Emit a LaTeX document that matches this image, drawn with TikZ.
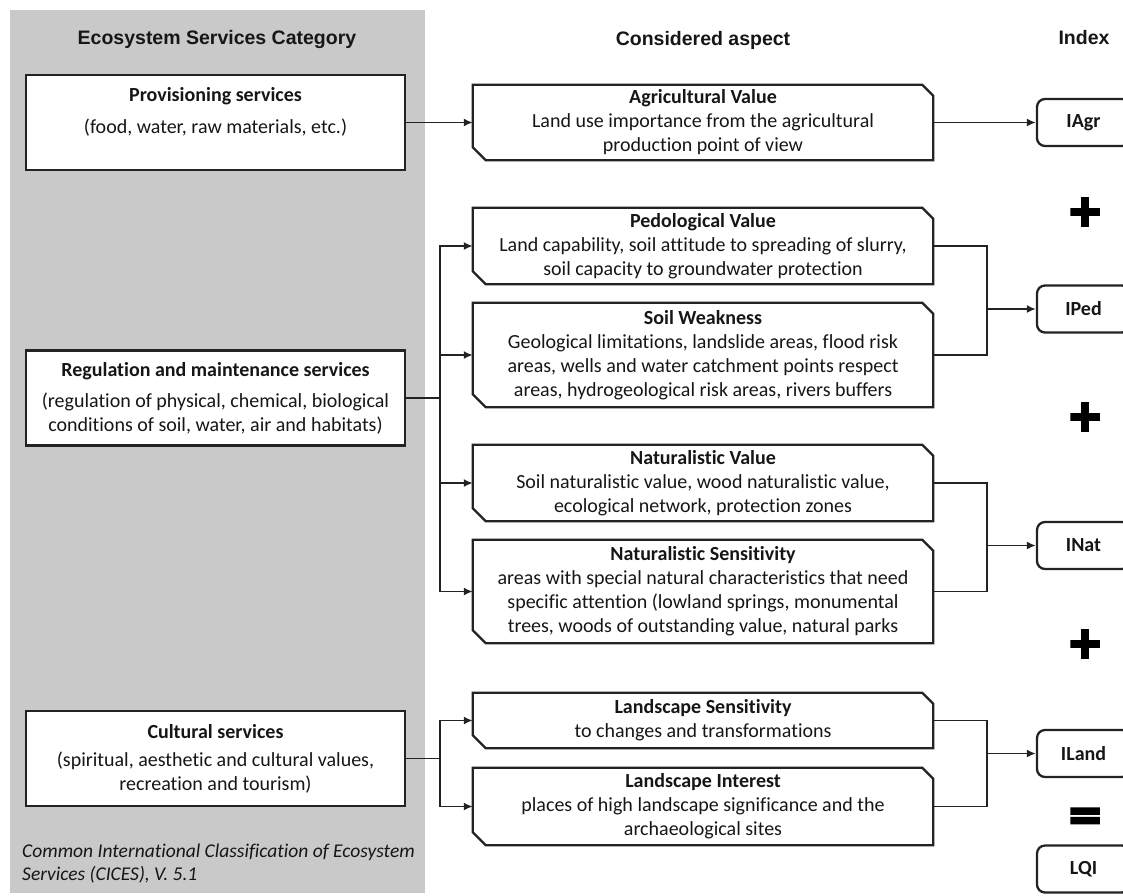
\documentclass[tikz,border=0pt]{standalone}
\usepackage{fontspec}
\setmainfont{Carlito}[Ligatures=CommonOff]
\newfontfamily\arialfont{Liberation Sans}
\newfontfamily\symfont{DejaVu Sans}[FakeBold=6]
\usetikzlibrary{arrows.meta}
\definecolor{panel}{RGB}{201,201,201}
\definecolor{ink}{RGB}{22,22,22}
\definecolor{edge}{RGB}{35,35,35}
\newcommand\chamf[1]{\draw[edge,line width=2.3pt,line join=miter] (#1.north west) -- ([xshift=-11pt]#1.north east) -- ([yshift=-11pt]#1.north east) -- (#1.south east) -- ([xshift=13pt]#1.south west) -- ([yshift=13pt]#1.south west) -- cycle;}
\begin{document}
\begin{tikzpicture}[x=1pt,y=-1pt,
  txt/.style={font=\fontsize{20}{24}\selectfont, text=ink, align=center, inner sep=0pt},
  catbox/.style={draw=edge, line width=2.3pt, fill=white, minimum width=379pt, minimum height=95pt, inner sep=0pt, txt},
  aspbox/.style={minimum width=460pt, inner sep=0pt, txt},
  idx/.style={draw=edge, line width=2.3pt, rounded corners=8pt, minimum width=93pt, minimum height=47pt, inner sep=0pt, font=\fontsize{20}{24}\selectfont\bfseries, text=ink, fill=white},
  conn/.style={draw=edge, line width=1.9pt},
  arr/.style={conn, -{Latex[length=9pt,width=8pt]}},
  hdr/.style={font=\arialfont\bfseries\fontsize{19.5}{23}\selectfont, text=ink, inner sep=0pt},
  bigsym/.style={font=\symfont\bfseries\fontsize{43}{43}\selectfont, text=black, inner sep=0pt}
]
\useasboundingbox (0,0) rectangle (1123,895);
\fill[panel] (10,10) rectangle (425,893);

% headers
\node[hdr] (h1) at (217,39) {Ecosystem Services Category};
\node[hdr] (h2) at (703,40) {Considered aspect};
\node[hdr] (h3) at (1084,38) {Index};

% category boxes
\node[catbox] (prov) at (215.5,122.5) {};
\node[txt] (provT) at (215.5,111.5) {\textbf{Provisioning services}\\[8pt](food, water, raw materials, etc.)};
\node[catbox] (reg) at (215.5,398) {\textbf{Regulation and maintenance services}\\[7pt](regulation of physical, chemical, biological\\conditions of soil, water, air and habitats)};
\node[catbox] (cult) at (215.5,758.5) {\textbf{Cultural services}\\[4pt](spiritual, aesthetic and cultural values,\\recreation and tourism)};
\node[txt, font=\fontsize{19.5}{23}\selectfont\itshape, align=left, anchor=west] (cices) at (22,864) {Common International Classification of Ecosystem\\Services (CICES), V. 5.1};

% aspect boxes
\node[aspbox, minimum height=75pt] (agr) at (703,122.5) {\textbf{Agricultural Value}\\Land use importance from the agricultural\\production point of view};
\node[aspbox, minimum height=76pt] (ped) at (703,246) {\textbf{Pedological Value}\\Land capability, soil attitude to spreading of slurry,\\soil capacity to groundwater protection};
\node[aspbox, minimum height=104pt] (soil) at (703,355) {\textbf{Soil Weakness}\\Geological limitations, landslide areas, flood risk\\areas, wells and water catchment points respect\\areas, hydrogeological risk areas, rivers buffers};
\node[aspbox, minimum height=76pt] (natval) at (703,483) {\textbf{Naturalistic Value}\\Soil naturalistic value, wood naturalistic value,\\ecological network, protection zones};
\node[aspbox, minimum height=103pt] (natsens) at (703,591.5) {\textbf{Naturalistic Sensitivity}\\areas with special natural characteristics that need\\specific attention (lowland springs, monumental\\trees, woods of outstanding value, natural parks};
\node[aspbox, minimum height=55pt] (lsens) at (703,720.5) {\textbf{Landscape Sensitivity}\\to changes and transformations};
\node[aspbox, minimum height=77pt] (lint) at (703,806.5) {\textbf{Landscape Interest}\\places of high landscape significance and the\\archaeological sites};
\chamf{agr}\chamf{ped}\chamf{soil}\chamf{natval}\chamf{natsens}\chamf{lsens}\chamf{lint}

% index boxes
\node[idx] (iagr) at (1083.5,122.5) {IAgr};
\node[idx] (iped) at (1083.5,309) {IPed};
\node[idx] (inat) at (1083.5,545.5) {INat};
\node[idx] (iland) at (1083.5,753.5) {ILand};
\node[idx] (lqi) at (1083.5,869) {LQI};

% operators
\node[bigsym] (p1) at (1085,212) {+};
\node[bigsym] (p2) at (1085,417) {+};
\node[bigsym] (p3) at (1085,644) {+};
\node[bigsym] (eq) at (1085,819) {=};

% connectors
\draw[arr] (prov.east) -- (agr.west);
\draw[arr] (agr.east) -- (iagr.west);

\coordinate (jr) at (440,398);
\draw[conn] (reg.east) -- (jr);
\draw[arr] (jr) |- (ped.west);
\draw[arr] (jr) |- (soil.west);
\draw[arr] (jr) |- (natval.west);
\draw[arr] (jr) |- (natsens.west);

\coordinate (jc) at (440,758.5);
\draw[conn] (cult.east) -- (jc);
\draw[arr] (jc) |- (lsens.west);
\draw[arr] (jc) |- (lint.west);

\coordinate (jp) at (987,309);
\draw[conn] (ped.east) -| (jp) |- (soil.east);
\draw[arr] (jp) -- (iped.west);

\coordinate (jn) at (987,545.5);
\draw[conn] (natval.east) -| (jn) |- (natsens.east);
\draw[arr] (jn) -- (inat.west);

\coordinate (jl) at (987,753.5);
\draw[conn] (lsens.east) -| (jl) |- (lint.east);
\draw[arr] (jl) -- (iland.west);
\end{tikzpicture}
\end{document}
